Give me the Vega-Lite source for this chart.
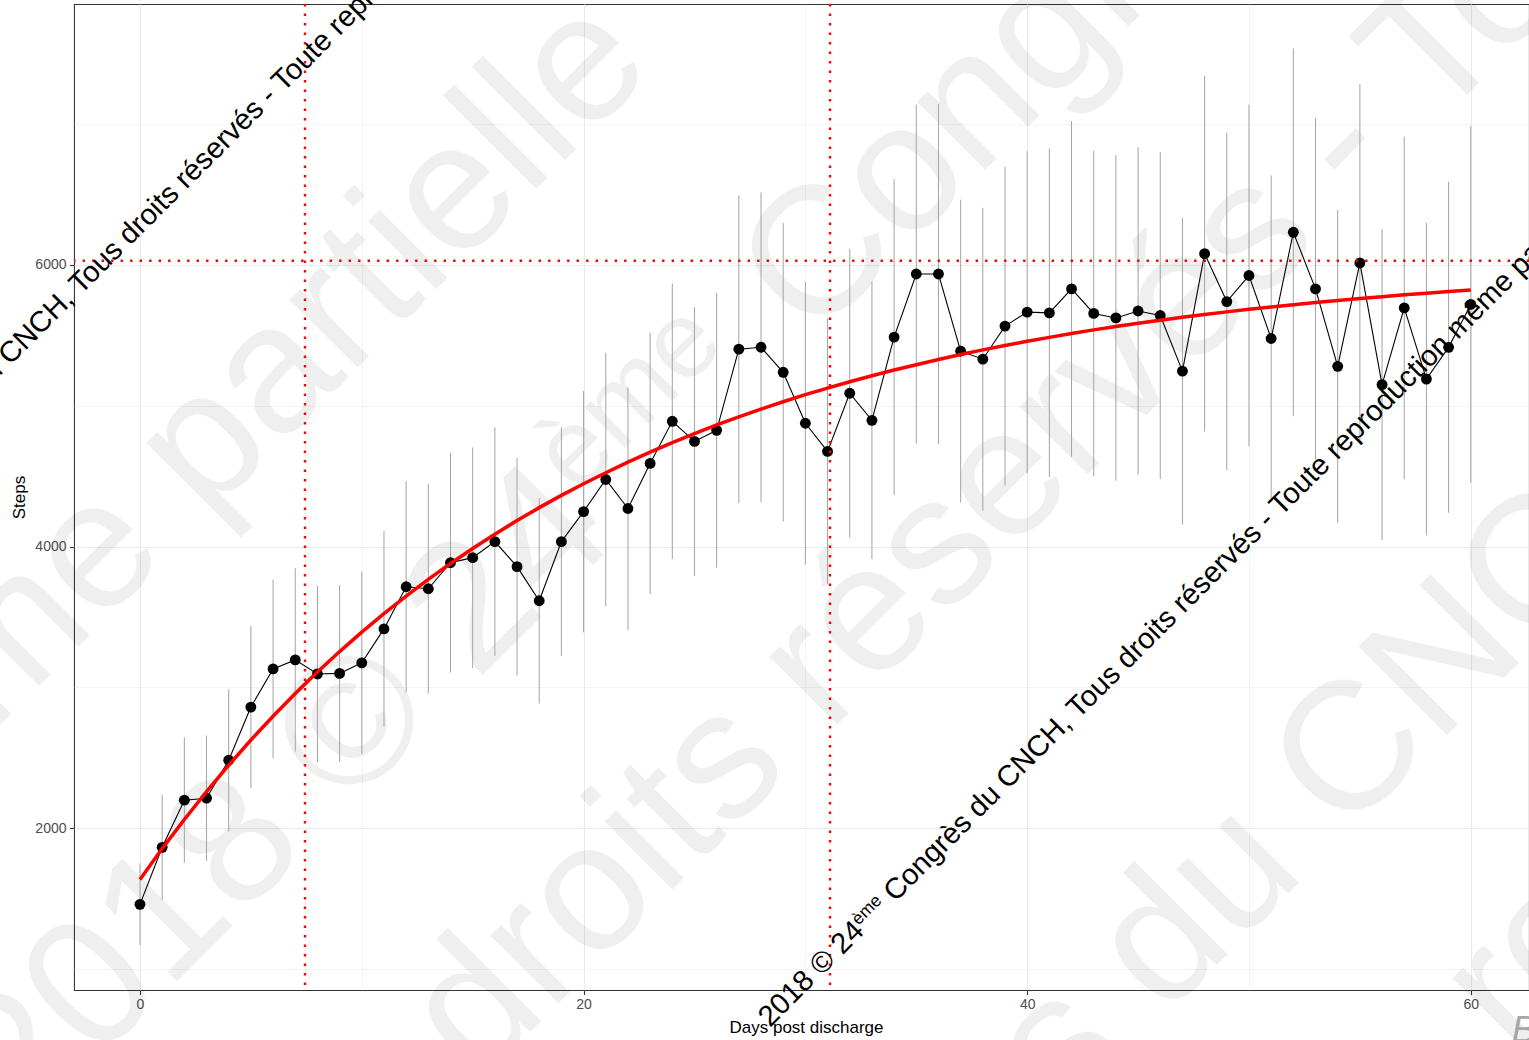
{
"$schema": "https://vega.github.io/schema/vega-lite/v6.json",
"width": 1455,
"height": 986,
"autosize": {"type": "none"},
"padding": {"left": 74, "top": 4, "right": 0, "bottom": 50},
"background": "white",
"config": {"view": {"stroke": "#333333", "strokeWidth": 1.07}, "font": "Liberation Sans"},
"datasets": {
"steps": [
{"day":0,"mean":1460,"lo":1170,"hi":1750,"fit":1637},
{"day":1,"mean":1865,"lo":1492,"hi":2238,"fit":1856},
{"day":2,"mean":2200,"lo":1755,"hi":2645,"fit":2063},
{"day":3,"mean":2214,"lo":1770,"hi":2658,"fit":2261},
{"day":4,"mean":2484,"lo":1979,"hi":2989,"fit":2448},
{"day":5,"mean":2861,"lo":2284,"hi":3438,"fit":2627},
{"day":6,"mean":3132,"lo":2498,"hi":3766,"fit":2796},
{"day":7,"mean":3196,"lo":2545,"hi":3847,"fit":2957},
{"day":8,"mean":3096,"lo":2470,"hi":3722,"fit":3110},
{"day":9,"mean":3100,"lo":2474,"hi":3726,"fit":3255},
{"day":10,"mean":3175,"lo":2528,"hi":3822,"fit":3393},
{"day":11,"mean":3416,"lo":2722,"hi":4110,"fit":3524},
{"day":12,"mean":3715,"lo":2965,"hi":4465,"fit":3649},
{"day":13,"mean":3701,"lo":2956,"hi":4446,"fit":3767},
{"day":14,"mean":3886,"lo":3106,"hi":4666,"fit":3880},
{"day":15,"mean":3922,"lo":3139,"hi":4705,"fit":3987},
{"day":16,"mean":4036,"lo":3224,"hi":4848,"fit":4088},
{"day":17,"mean":3858,"lo":3085,"hi":4631,"fit":4185},
{"day":18,"mean":3616,"lo":2886,"hi":4346,"fit":4277},
{"day":19,"mean":4036,"lo":3224,"hi":4848,"fit":4364},
{"day":20,"mean":4249,"lo":3392,"hi":5106,"fit":4447},
{"day":21,"mean":4477,"lo":3577,"hi":5377,"fit":4525},
{"day":22,"mean":4271,"lo":3409,"hi":5133,"fit":4600},
{"day":23,"mean":4591,"lo":3663,"hi":5519,"fit":4671},
{"day":24,"mean":4890,"lo":3912,"hi":5868,"fit":4739},
{"day":25,"mean":4747,"lo":3792,"hi":5702,"fit":4803},
{"day":26,"mean":4826,"lo":3851,"hi":5801,"fit":4864},
{"day":27,"mean":5402,"lo":4309,"hi":6495,"fit":4922},
{"day":28,"mean":5416,"lo":4316,"hi":6516,"fit":4977},
{"day":29,"mean":5238,"lo":4178,"hi":6298,"fit":5029},
{"day":30,"mean":4876,"lo":3873,"hi":5879,"fit":5079},
{"day":31,"mean":4676,"lo":3733,"hi":5619,"fit":5126},
{"day":32,"mean":5089,"lo":4064,"hi":6114,"fit":5171},
{"day":33,"mean":4897,"lo":3912,"hi":5882,"fit":5213},
{"day":34,"mean":5488,"lo":4368,"hi":6608,"fit":5254},
{"day":35,"mean":5936,"lo":4733,"hi":7139,"fit":5292},
{"day":36,"mean":5936,"lo":4730,"hi":7142,"fit":5329},
{"day":37,"mean":5388,"lo":4313,"hi":6463,"fit":5364},
{"day":38,"mean":5331,"lo":4256,"hi":6406,"fit":5397},
{"day":39,"mean":5566,"lo":4435,"hi":6697,"fit":5428},
{"day":40,"mean":5665,"lo":4523,"hi":6807,"fit":5458},
{"day":41,"mean":5660,"lo":4494,"hi":6826,"fit":5486},
{"day":42,"mean":5830,"lo":4638,"hi":7022,"fit":5513},
{"day":43,"mean":5656,"lo":4500,"hi":6812,"fit":5539},
{"day":44,"mean":5624,"lo":4468,"hi":6780,"fit":5563},
{"day":45,"mean":5673,"lo":4510,"hi":6836,"fit":5586},
{"day":46,"mean":5641,"lo":4481,"hi":6801,"fit":5608},
{"day":47,"mean":5246,"lo":4156,"hi":6336,"fit":5629},
{"day":48,"mean":6080,"lo":4818,"hi":7342,"fit":5648},
{"day":49,"mean":5740,"lo":4541,"hi":6939,"fit":5667},
{"day":50,"mean":5925,"lo":4711,"hi":7139,"fit":5685},
{"day":51,"mean":5478,"lo":4320,"hi":6636,"fit":5702},
{"day":52,"mean":6232,"lo":4926,"hi":7538,"fit":5718},
{"day":53,"mean":5830,"lo":4620,"hi":7040,"fit":5734},
{"day":54,"mean":5280,"lo":4169,"hi":6391,"fit":5748},
{"day":55,"mean":6015,"lo":4745,"hi":7285,"fit":5762},
{"day":56,"mean":5150,"lo":4047,"hi":6253,"fit":5775},
{"day":57,"mean":5695,"lo":4480,"hi":6910,"fit":5788},
{"day":58,"mean":5190,"lo":4081,"hi":6299,"fit":5800},
{"day":59,"mean":5415,"lo":4240,"hi":6590,"fit":5811},
{"day":60,"mean":5720,"lo":4455,"hi":6985,"fit":5822}
],
"vlines": [{"x": 7.44}, {"x": 31.11}],
"hlines": [{"y": 6030}],
"wm": [
{"label":"2018 © 24","x":28.40,"y":582,"size":"main"},
{"label":"ème","x":32.40,"y":1309,"size":"sup"},
{"label":"Congrès du CNCH, Tous droits réservés - Toute reproduction même partielle interdite","x":34.05,"y":1472,"size":"main"},
{"label":"2018 © 24","x":-16.59,"y":3593,"size":"main"},
{"label":"ème","x":-12.58,"y":4321,"size":"sup"},
{"label":"Congrès du CNCH, Tous droits réservés - Toute reproduction même partielle interdite","x":-10.93,"y":4484,"size":"main"}
],
"big": [
{"label":"reproduction même partielle","x":-48.64,"y":-3934,"size":"main"},
{"label":"2018 © 24","x":-5.23,"y":-171,"size":"main"},
{"label":"ème","x":19.70,"y":4358,"size":"sup"},
{"label":"Congrès du CNCH,","x":30.29,"y":5446,"size":"main"},
{"label":"Tous droits réservés - Toute reproduction","x":1.37,"y":-1999,"size":"main"},
{"label":"Congrès du CNCH, Tous droits réservés","x":22.65,"y":-3050,"size":"main"},
{"label":"reproduction même","x":61.85,"y":390,"size":"main"}
],
"corner": [{"label":"B","x":61.85,"y":482}]
},
"layer": [
{
"data": {"name": "big"},
"transform": [{"filter": "datum.size === 'main'"}],
"mark": {"type":"text","angle":315,"align":"left","baseline":"alphabetic","font":"Liberation Sans","fontSize":182,"color":"#000000","opacity":0.058},
"encoding": {
"x": {"field":"x","type":"quantitative","title":"Days post discharge","scale":{"domain":[-2.975,62.625],"nice":false,"zero":false},
"axis": {"values":[0,10,20,30,40,50,60],"format":"d","labelExpr":"datum.value % 20 === 0 ? datum.label : ''","grid":true,"gridColor":"#ebebeb","gridWidth":{"condition":{"test":"datum.value % 20 === 0","value":1.1},"value":0.55},"domain":false,"ticks":true,"tickSize":4.5,"tickWidth":1.07,"tickColor":{"condition":{"test":"datum.value % 20 === 0","value":"#333333"},"value":"rgba(0,0,0,0)"},"labelFontSize":14,"labelColor":"#4d4d4d","labelPadding":3,"labelFlush":false,"labelOverlap":false,"labelFont":"Liberation Sans","titleFont":"Liberation Sans","titleFontSize":17,"titleFontWeight":"normal","titleColor":"#000000","titleX":732,"titleY":37,"titleBaseline":"middle","titleAlign":"center"}},
"y": {"field":"y","type":"quantitative","title":"Steps","scale":{"domain":[852,7853],"nice":false,"zero":false},
"axis": {"values":[1000,2000,3000,4000,5000,6000,7000],"format":"d","labelExpr":"datum.value % 2000 === 0 ? datum.label : ''","grid":true,"gridColor":"#ebebeb","gridWidth":{"condition":{"test":"datum.value % 2000 === 0","value":1.1},"value":0.55},"domain":false,"ticks":true,"tickSize":4.5,"tickWidth":1.07,"tickColor":{"condition":{"test":"datum.value % 2000 === 0","value":"#333333"},"value":"rgba(0,0,0,0)"},"labelFontSize":14,"labelColor":"#4d4d4d","labelPadding":3.5,"labelOverlap":false,"labelFont":"Liberation Sans","titleFont":"Liberation Sans","titleFontSize":17,"titleFontWeight":"normal","titleColor":"#000000","titleX":-55,"titleY":493,"titleAngle":270,"titleBaseline":"middle","titleAlign":"center"}},
"text": {"field":"label"}
}
},
{
"data": {"name": "big"},
"transform": [{"filter": "datum.size === 'sup'"}],
"mark": {"type":"text","angle":315,"align":"left","baseline":"alphabetic","font":"Liberation Sans","fontSize":109,"color":"#000000","opacity":0.058},
"encoding": {
"x": {"field":"x","type":"quantitative","title":"Days post discharge","scale":{"domain":[-2.975,62.625],"nice":false,"zero":false}},
"y": {"field":"y","type":"quantitative","title":"Steps","scale":{"domain":[852,7853],"nice":false,"zero":false}},
"text": {"field":"label"}
}
},
{
"data": {"name": "steps"},
"mark": {"type":"rule","color":"#a3a3a3","strokeWidth":1},
"encoding": {
"x": {"field":"day","type":"quantitative","title":"Days post discharge","scale":{"domain":[-2.975,62.625],"nice":false,"zero":false}},
"y": {"field":"lo","type":"quantitative","title":"Steps","scale":{"domain":[852,7853],"nice":false,"zero":false}},
"y2": {"field":"hi"}
}
},
{
"data": {"name": "steps"},
"mark": {"type":"line","color":"#000000","strokeWidth":1.1},
"encoding": {
"x": {"field":"day","type":"quantitative","title":"Days post discharge","scale":{"domain":[-2.975,62.625],"nice":false,"zero":false}},
"y": {"field":"mean","type":"quantitative","title":"Steps","scale":{"domain":[852,7853],"nice":false,"zero":false}}
}
},
{
"data": {"name": "steps"},
"mark": {"type":"circle","color":"#000000","size":118,"opacity":1},
"encoding": {
"x": {"field":"day","type":"quantitative","title":"Days post discharge","scale":{"domain":[-2.975,62.625],"nice":false,"zero":false}},
"y": {"field":"mean","type":"quantitative","title":"Steps","scale":{"domain":[852,7853],"nice":false,"zero":false}}
}
},
{
"data": {"name": "steps"},
"mark": {"type":"line","color":"#ff0000","strokeWidth":3.5},
"encoding": {
"x": {"field":"day","type":"quantitative","title":"Days post discharge","scale":{"domain":[-2.975,62.625],"nice":false,"zero":false}},
"y": {"field":"fit","type":"quantitative","title":"Steps","scale":{"domain":[852,7853],"nice":false,"zero":false}}
}
},
{
"data": {"name": "vlines"},
"mark": {"type":"rule","color":"#ff0000","strokeWidth":2.4,"strokeDash":[2.4,7.1]},
"encoding": {
"x": {"field":"x","type":"quantitative","title":"Days post discharge","scale":{"domain":[-2.975,62.625],"nice":false,"zero":false}}
}
},
{
"data": {"name": "hlines"},
"mark": {"type":"rule","color":"#ff0000","strokeWidth":2.4,"strokeDash":[2.4,7.1]},
"encoding": {
"y": {"field":"y","type":"quantitative","title":"Steps","scale":{"domain":[852,7853],"nice":false,"zero":false}}
}
},
{
"data": {"name": "wm"},
"transform": [{"filter": "datum.size === 'main'"}],
"mark": {"type":"text","angle":315,"align":"left","baseline":"alphabetic","font":"Liberation Sans","fontSize":29.2,"color":"#000000"},
"encoding": {
"x": {"field":"x","type":"quantitative","title":"Days post discharge","scale":{"domain":[-2.975,62.625],"nice":false,"zero":false}},
"y": {"field":"y","type":"quantitative","title":"Steps","scale":{"domain":[852,7853],"nice":false,"zero":false}},
"text": {"field":"label"}
}
},
{
"data": {"name": "wm"},
"transform": [{"filter": "datum.size === 'sup'"}],
"mark": {"type":"text","angle":315,"align":"left","baseline":"alphabetic","font":"Liberation Sans","fontSize":17.5,"color":"#000000"},
"encoding": {
"x": {"field":"x","type":"quantitative","title":"Days post discharge","scale":{"domain":[-2.975,62.625],"nice":false,"zero":false}},
"y": {"field":"y","type":"quantitative","title":"Steps","scale":{"domain":[852,7853],"nice":false,"zero":false}},
"text": {"field":"label"}
}
},
{
"data": {"name": "corner"},
"mark": {"type":"text","align":"left","baseline":"alphabetic","font":"Liberation Sans","fontSize":36,"fontStyle":"italic","color":"#a6a6a6"},
"encoding": {
"x": {"field":"x","type":"quantitative","title":"Days post discharge","scale":{"domain":[-2.975,62.625],"nice":false,"zero":false}},
"y": {"field":"y","type":"quantitative","title":"Steps","scale":{"domain":[852,7853],"nice":false,"zero":false}},
"text": {"field":"label"}
}
}
]
}
